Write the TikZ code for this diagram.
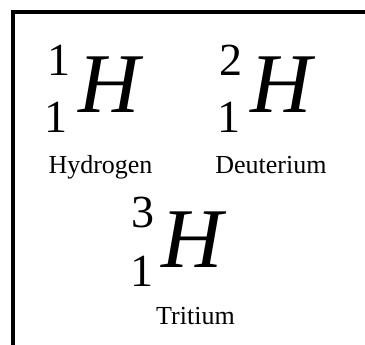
\documentclass[tikz,border=0pt]{standalone}
\usepackage{fontspec}
\setmainfont{Liberation Serif}
\begin{document}
\begin{tikzpicture}[x=1pt,y=1pt,
  big/.style={inner sep=0pt,anchor=base,font=\fontsize{85}{85}\selectfont\itshape},
  idx/.style={inner sep=0pt,anchor=base,font=\fontsize{46}{46}\selectfont},
  lbl/.style={inner sep=0pt,anchor=base,font=\fontsize{26}{26}\selectfont},
  frame/.style={line width=3.6pt,line join=miter}]
\useasboundingbox (0,0) rectangle (365,345);
\coordinate (fb) at (13,0);
\coordinate (fc) at (13,333);
\coordinate (fr) at (366,333);
\draw[frame] (fb) -- (fc) -- (fr);
% Hydrogen
\node[idx] (hsup) at (59.5,269) {1};
\node[idx] (hsub) at (56,212) {1};
\node[big] (hH) at (109,232) {H};
\node[lbl] (hl) at (100.5,171) {Hydrogen};
% Deuterium
\node[idx] (dsup) at (231,269) {2};
\node[idx] (dsub) at (229,212) {1};
\node[big] (dH) at (281,232) {H};
\node[lbl] (dl) at (271,171) {Deuterium};
% Tritium
\node[idx] (tsup) at (143,117) {3};
\node[idx] (tsub) at (141.5,58) {1};
\node[big] (tH) at (192,77) {H};
\node[lbl] (tl) at (195.5,20) {Tritium};
\end{tikzpicture}
\end{document}
